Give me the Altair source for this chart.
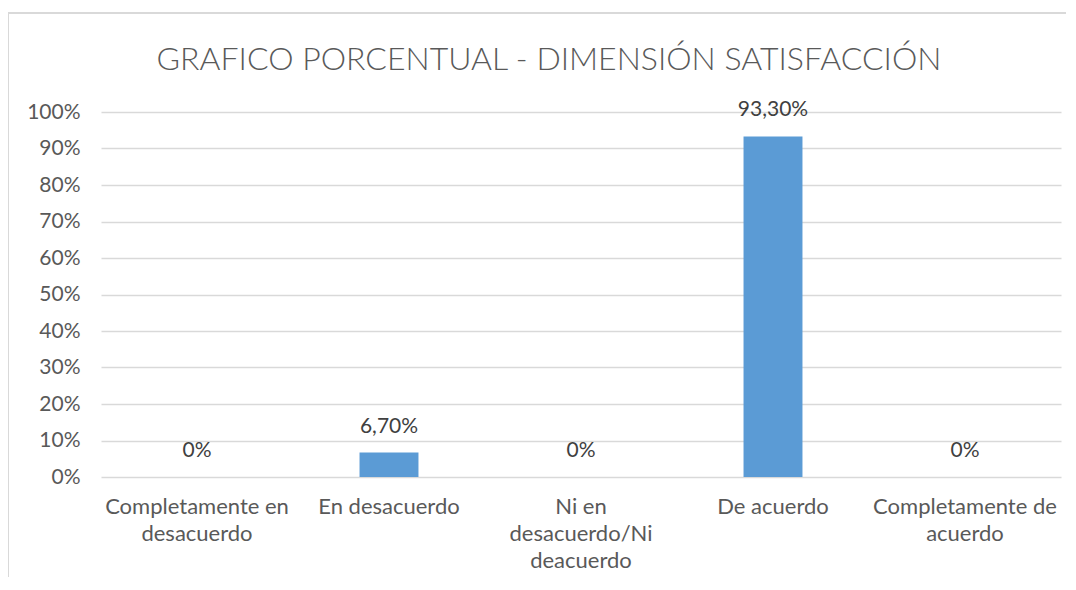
import json
import altair as alt
import pandas as pd

categories = [
    "Completamente en desacuerdo",
    "En desacuerdo",
    "Ni en desacuerdo/Ni deacuerdo",
    "De acuerdo",
    "Completamente de acuerdo",
]
values = [0.0, 0.067, 0.0, 0.933, 0.0]
value_labels = ["0%", "6,70%", "0%", "93,30%", "0%"]
category_lines = [
    ["Completamente en", "desacuerdo"],
    ["En desacuerdo"],
    ["Ni en", "desacuerdo/Ni", "deacuerdo"],
    ["De acuerdo"],
    ["Completamente de", "acuerdo"],
]
y_ticks = [0, 0.1, 0.2, 0.3, 0.4, 0.5, 0.6, 0.7, 0.8, 0.9, 1.0]
title_text = "GRAFICO PORCENTUAL - DIMENSIÓN SATISFACCIÓN"

df = pd.DataFrame({"cat": categories, "val": values, "lab": value_labels})
title_df = pd.DataFrame({"t": [title_text]})

FONT = "Lato"
label_map = json.dumps(dict(zip(categories, category_lines)), ensure_ascii=False)
label_expr = f"{label_map}[datum.value]"

x_enc = alt.X(
    "cat:N",
    sort=categories,
    scale=alt.Scale(paddingInner=0.693, paddingOuter=0.3465),
    axis=alt.Axis(
        title=None, labelAngle=0, domain=False, ticks=False, labelExpr=label_expr,
        labelFont=FONT, labelFontSize=22, labelColor="#595959",
        labelLineHeight=27, labelPadding=19, labelLimit=400,
    ),
)
y_scale = alt.Scale(domain=[0, 1])

bars = alt.Chart(df).mark_bar(color="#5B9BD5").encode(
    x=x_enc,
    y=alt.Y(
        "val:Q", scale=y_scale,
        axis=alt.Axis(
            title=None, values=y_ticks, tickCount=11, format=".0%", domain=False,
            ticks=False, grid=True, gridColor="#D9D9D9", gridWidth=1.3,
            labelOverlap=False, labelFont=FONT, labelFontSize=21,
            labelColor="#595959", labelPadding=21,
        ),
    ),
)

text = alt.Chart(df).mark_text(
    font=FONT, fontSize=21, color="#404040", baseline="middle", dy=-26
).encode(
    x=alt.X("cat:N", sort=categories),
    y=alt.Y("val:Q", scale=y_scale),
    text="lab:N",
)

title_mark = alt.Chart(title_df).mark_text(
    font=FONT, fontSize=32, fontWeight=300, color="#595959",
    align="center", baseline="alphabetic",
).encode(x=alt.value(448), y=alt.value(-42), text="t:N")

border_top = alt.Chart(title_df).mark_rule(color="#D9D9D9", strokeWidth=2).encode(
    x=alt.value(-93), x2=alt.value(970), y=alt.value(-99)
)
border_left = alt.Chart(title_df).mark_rule(color="#D9D9D9", strokeWidth=2).encode(
    x=alt.value(-93), y=alt.value(-99), y2=alt.value(480)
)

chart = alt.layer(border_top, border_left, title_mark, bars, text).properties(
    width=960,
    height=365,
    autosize=alt.AutoSizeParams(type="none"),
    padding={"left": 93, "top": 104, "right": 5, "bottom": 100},
).configure_view(stroke=None)

chart.save("out.html", embed_options={"renderer": "svg", "actions": False})
